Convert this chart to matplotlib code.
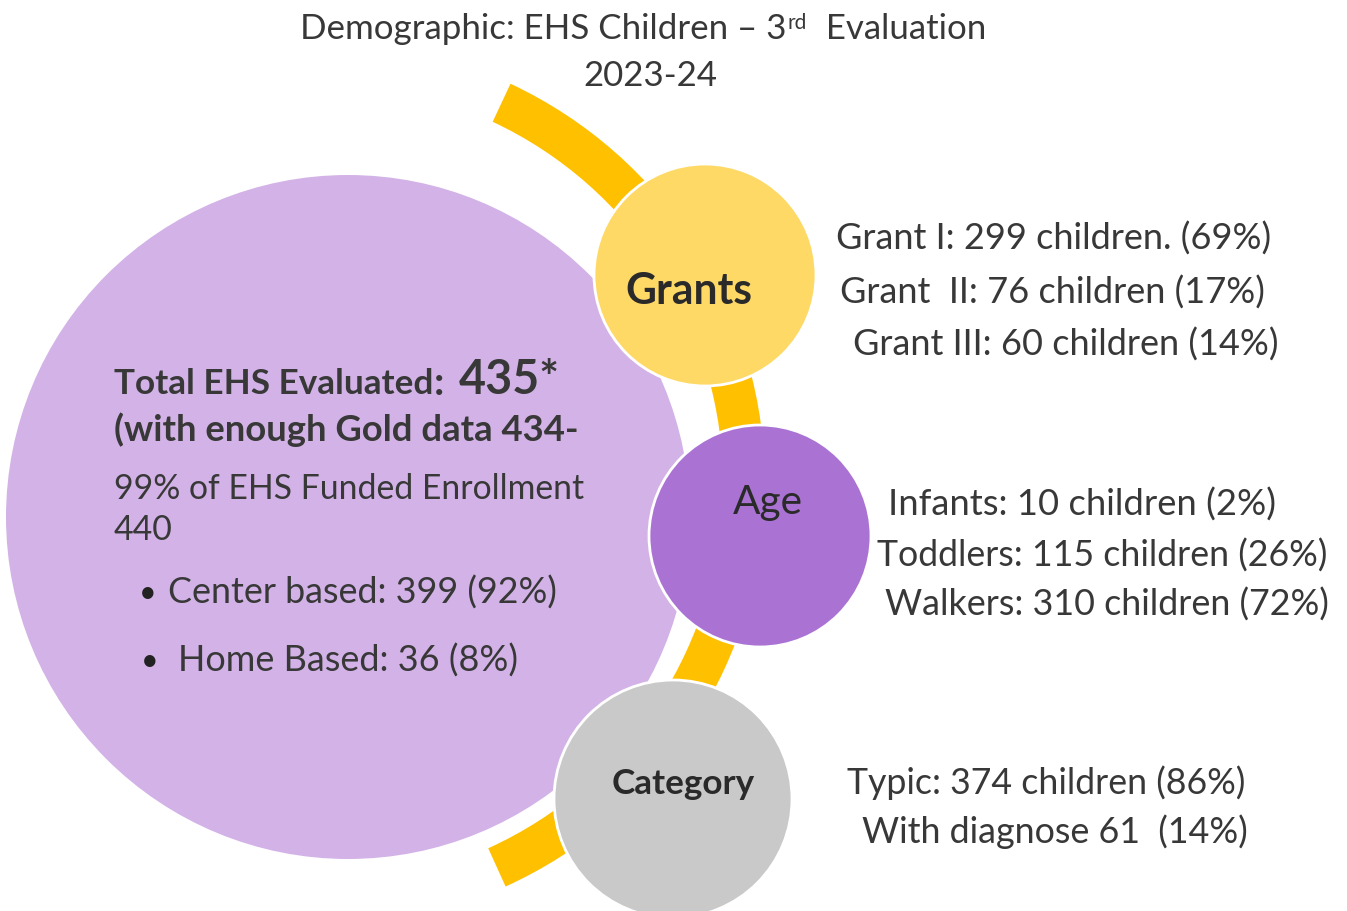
import matplotlib
matplotlib.use("Agg")
import matplotlib.pyplot as plt
from matplotlib.patches import Circle, Wedge

# ---------------- data ----------------
title_main = "Demographic: EHS Children – 3"
title_sup = "rd"
title_end = "  Evaluation"
school_year = "2023-24"

total_evaluated = 435
gold_data = 434
funded_pct = 99
funded_enrollment = 440

setting_labels = ["Center based", "Home Based"]
setting_counts = [399, 36]
setting_pcts = [92, 8]

grant_labels = ["Grant I", "Grant  II", "Grant III"]
grant_counts = [299, 76, 60]
grant_pcts = [69, 17, 14]

age_labels = ["Infants", "Toddlers", "Walkers"]
age_counts = [10, 115, 310]
age_pcts = [2, 26, 72]

category_labels = ["Typic", "With diagnose"]
category_counts = [374, 61]
category_pcts = [86, 14]

group_names = ["Grants", "Age", "Category"]

# ---------------- style ----------------
FONT = "Lato"
TXT = "#383838"
C_BIG = "#d3b3e7"
C_BAND = "#ffc000"
C_GRANT = "#fed966"
C_AGE = "#a972d3"
C_CAT = "#c9c9c9"
DY = 3  # vertical text offset

W, H = 1347, 912
fig = plt.figure(figsize=(W / 100, H / 100), dpi=100)
ax = fig.add_axes([0, 0, 1, 1])
ax.set_xlim(0, W)
ax.set_ylim(H, 0)
ax.axis("off")
renderer = fig.canvas.get_renderer()


def fit_text(x0, x1, y, s, weight="normal", ha="left", color=TXT, z=10):
    t = ax.text(x0, y + DY, s, ha="left", va="center", fontsize=20,
                family=FONT, weight=weight, color=color, zorder=z)
    bb = t.get_window_extent(renderer)
    t.set_fontsize(20 * (x1 - x0) / bb.width)
    if ha == "center":
        t.set_ha("center")
        t.set_x((x0 + x1) / 2)
    return t


def width_of(s, size, weight="normal"):
    t = ax.text(0, 0, s, fontsize=size, family=FONT, weight=weight)
    w = t.get_window_extent(renderer).width
    t.remove()
    return w


# ---------------- shapes ----------------
ax.add_patch(Wedge((323, 485), 442, -64.9, 65.6, width=42,
                   facecolor=C_BAND, edgecolor="none", zorder=1))
ax.add_patch(Circle((348, 518), 342, facecolor=C_BIG, edgecolor="none", zorder=2))
ax.add_patch(Circle((705, 276), 111, facecolor=C_GRANT, edgecolor="white", lw=2, zorder=3))
ax.add_patch(Circle((760, 537), 111, facecolor=C_AGE, edgecolor="white", lw=2, zorder=3))
ax.add_patch(Circle((673, 800), 119, facecolor=C_CAT, edgecolor="white", lw=2, zorder=3))

# ---------------- title ----------------
x_left, x_right = 300, 987
w1 = width_of(title_main, 20)
w2 = width_of(title_sup, 12)
w3 = width_of(title_end, 20)
scale = (x_right - x_left) / (w1 + w2 + w3 + 2)
fs = 20 * scale
ax.text(x_left, 26 + DY, title_main, fontsize=fs, family=FONT, color=TXT, va="center", ha="left")
ax.text(x_left + w1 * scale + 1, 20 + DY, title_sup, fontsize=12 * scale, family=FONT,
        color=TXT, va="center", ha="left")
ax.text(x_left + (w1 + w2) * scale + 2, 26 + DY, title_end, fontsize=fs, family=FONT,
        color=TXT, va="center", ha="left")
ax.text(650, 73 + DY, school_year, fontsize=fs, family=FONT, color=TXT, va="center", ha="center")

# ---------------- circle labels ----------------
fit_text(625, 752, 288, group_names[0], weight="bold", ha="center", color="#2a2a2a")
fit_text(733, 803, 500, group_names[1], ha="center", color="#2a2a2a")
fit_text(612, 755, 781, group_names[2], weight="bold", ha="center", color="#2a2a2a")

# ---------------- big circle text ----------------
t = fit_text(114, 433, 381, "Total EHS Evaluated", weight="bold")
fsb = t.get_fontsize()
ax.text(434, 381 + DY, ":", fontsize=fsb * 1.15, family=FONT, weight="bold", color=TXT,
        va="center", ha="left", zorder=10)
fit_text(459, 560, 377, f"{total_evaluated}*", weight="bold")
fit_text(114, 580, 427, f"(with enough Gold data {gold_data}-", weight="bold")
fit_text(114, 585, 486, f"{funded_pct}% of EHS Funded Enrollment")
fit_text(114, 173, 527, f"{funded_enrollment}")
bullet_x = [148, 150]
text_x = [(168, 557), (178, 518)]
bullet_y = [590, 658]
for i in range(len(setting_labels)):
    ax.text(bullet_x[i], bullet_y[i] + DY, "•", fontsize=22, family=FONT, color="#222222",
            va="center", ha="center", zorder=10)
    fit_text(text_x[i][0], text_x[i][1], bullet_y[i],
             f"{setting_labels[i]}: {setting_counts[i]} ({setting_pcts[i]}%)")

# ---------------- right-side details ----------------
grant_fmt = ["{}: {} children. ({}%)", "{}: {} children ({}%)", "{}: {} children ({}%)"]
grant_pos = [(836, 1272, 236), (840, 1267, 290), (853, 1280, 342)]
for i in range(3):
    x0, x1, y = grant_pos[i]
    fit_text(x0, x1, y, grant_fmt[i].format(grant_labels[i], grant_counts[i], grant_pcts[i]))

age_pos = [(888, 1277, 502), (877, 1330, 553), (885, 1330, 602)]
for i in range(3):
    x0, x1, y = age_pos[i]
    fit_text(x0, x1, y, f"{age_labels[i]}: {age_counts[i]} children ({age_pcts[i]}%)")

cat_text = [f"{category_labels[0]}: {category_counts[0]} children ({category_pcts[0]}%)",
            f"{category_labels[1]} {category_counts[1]}  ({category_pcts[1]}%)"]
cat_pos = [(847, 1247, 780), (862, 1249, 829)]
for i in range(2):
    x0, x1, y = cat_pos[i]
    fit_text(x0, x1, y, cat_text[i])

fig.savefig("out.png", dpi=100)
